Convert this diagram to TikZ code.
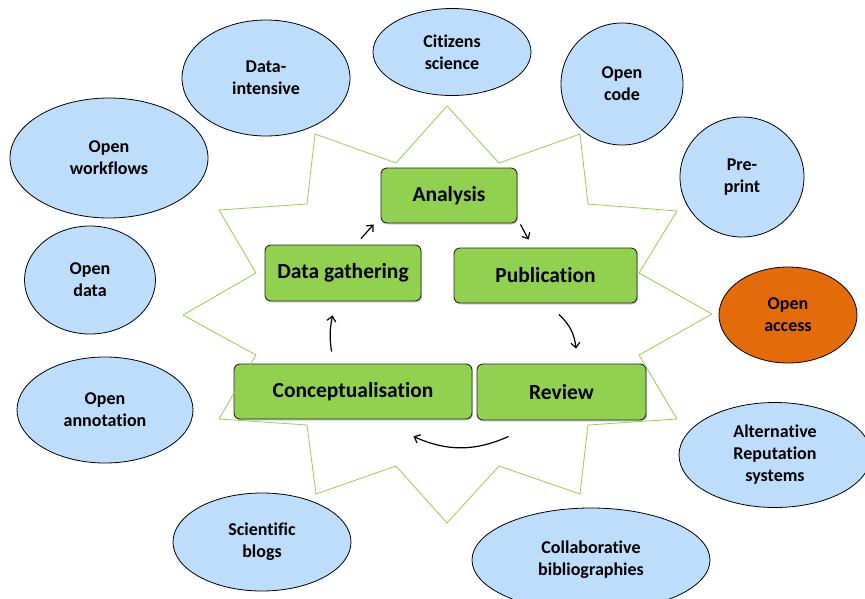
\documentclass[tikz,border=0pt]{standalone}
\usepackage{fontspec}
\setmainfont[Ligatures=NoCommon]{Carlito}
\usetikzlibrary{shapes.geometric,arrows.meta,shadows,calc}
\definecolor{bubble}{RGB}{189,221,250}
\definecolor{oaorange}{RGB}{227,108,9}
\definecolor{boxgreen}{RGB}{146,208,80}
\definecolor{stargreen}{RGB}{146,208,80}
\tikzset{
  bubblenode/.style={ellipse, draw=black, line width=0.8pt, fill=bubble, inner sep=0pt, align=center,
    font=\fontsize{18}{22}\selectfont\bfseries},
  stagebox/.style={draw=black!85, line width=0.9pt, fill=boxgreen, rounded corners=6pt, inner sep=0pt,
    font=\fontsize{21.5}{25}\selectfont\bfseries,
    drop shadow={shadow xshift=1pt, shadow yshift=-1.5pt, opacity=0.35}},
  cyclearrow/.style={line width=1.2pt, -{Straight Barb[length=5pt,width=9pt]}},
  starline/.style={draw=stargreen, line width=0.8pt}
}
\begin{document}
\begin{tikzpicture}[x=1pt,y=-1pt]
\useasboundingbox (0,0) rectangle (865,598);
\clip (0,0) rectangle (865,598);
\fill[white] (0,0) rectangle (865,598);

% outer bubbles
\node[bubblenode, minimum width=168pt, minimum height=116pt] (di) at (266,78) {Data-\\intensive};
\node[bubblenode, minimum width=158pt, minimum height=87pt] (cs) at (452,52) {Citizens\\science};
\node[bubblenode, minimum width=122pt, minimum height=122pt] (oc) at (622,84) {Open\\code};
\node[bubblenode, minimum width=124pt, minimum height=120pt] (pp) at (742,177) {Pre-\\print};
\node[bubblenode, minimum width=198pt, minimum height=120pt] (ow) at (109,158) {Open\\workflows};
\node[bubblenode, minimum width=131pt, minimum height=108pt] (od) at (90,280) {Open\\data};
\node[bubblenode, fill=oaorange, minimum width=138pt, minimum height=96pt] (oa) at (788,315) {Open\\access};
\node[bubblenode, minimum width=176pt, minimum height=106pt] (an) at (105,410) {Open\\annotation};
\node[bubblenode, minimum width=192pt, minimum height=105pt] (ar) at (775,455) {Alternative\\Reputation\\systems};
\node[bubblenode, minimum width=178pt, minimum height=98pt] (sb) at (262,542) {Scientific\\blogs};
\node[bubblenode, minimum width=238pt, minimum height=104pt] (cb) at (591,560) {Collaborative\\bibliographies};

% stage boxes
\node[stagebox, minimum width=136pt, minimum height=55pt] (ana) at (449,195.5) {Analysis};
\node[stagebox, minimum width=156pt, minimum height=56pt] (dg) at (343,273) {Data gathering};
\node[stagebox, minimum width=183pt, minimum height=55pt] (pub) at (545.5,275.5) {Publication};
\node[stagebox, minimum width=238pt, minimum height=55pt] (con) at (353,391.5) {Conceptualisation};
\node[stagebox, minimum width=169pt, minimum height=56pt] (rev) at (561.5,392) {Review};

% star outline
\draw[starline] (447,106) -- (499,163) -- (580,134) -- (588,204) -- (677,211) -- (639,273)
  -- (712,314) -- (639,355) -- (677,419) -- (588,425) -- (580,494) -- (499,466)
  -- (447,523) -- (396,466) -- (316,494) -- (307,425) -- (219,419) -- (256,355)
  -- (183,315) -- (256,273) -- (219,210) -- (307,204) -- (315,134) -- (396,163) -- cycle;

% cycle arrows
\coordinate (dgout) at ($(dg.north)+(18,-6)$);
\coordinate (anain) at ($(ana.south west)+(-7,1)$);
\coordinate (anaout) at ($(ana.south east)+(3,1)$);
\coordinate (pubin) at ($(pub.north west)+(75,-8)$);
\coordinate (pubout) at ($(pub.south)+(13.5,11)$);
\coordinate (revin) at ($(rev.north)+(14.5,-15)$);
\coordinate (revout) at ($(rev.south west)+(32,16)$);
\coordinate (conin) at ($(con.south east)+(-59,17)$);
\coordinate (conout) at ($(con.north west)+(98,-12)$);
\coordinate (dgin) at ($(dg.south west)+(68,14)$);

\draw[cyclearrow] (dgout) -- (anain);
\draw[cyclearrow] (anaout) -- (pubin);
\draw[cyclearrow] (pubout) to[bend left=20] (revin);
\draw[cyclearrow] (revout) to[bend left=24] (conin);
\draw[cyclearrow] (conout) to[bend left=10] (dgin);
\end{tikzpicture}
\end{document}
